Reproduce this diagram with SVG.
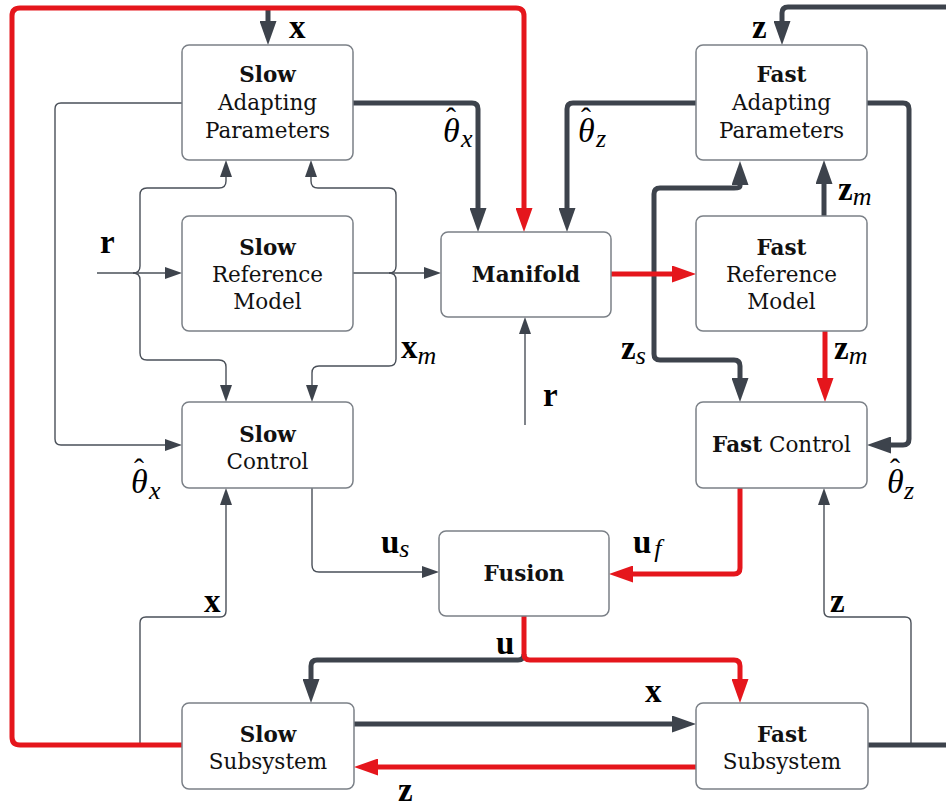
<svg xmlns="http://www.w3.org/2000/svg" width="946" height="807" viewBox="0 0 946 807">
  <defs>
    <style>
      .box { fill: #ffffff; stroke: #7b8087; stroke-width: 1.5; }
      .lbl { font-family: "DejaVu Serif", "Liberation Serif", serif; font-size: 21.5px; fill: #111; text-anchor: middle; }
      .b { font-weight: bold; }
      .thick { fill: none; stroke: #3d434c; stroke-width: 5; }
      .red { fill: none; stroke: #e5161c; stroke-width: 5; }
      .thin { fill: none; stroke: #4a5059; stroke-width: 1.4; }
      .vec { font-family: "Liberation Serif", "DejaVu Serif", serif; font-weight: bold; font-size: 33px; fill: #000; }
      .it { font-family: "Liberation Serif", "DejaVu Serif", serif; font-style: italic; fill: #000; }
      .th { font-size: 34px; }
      .sub { font-size: 26px; }
      .hat { font-style: normal; font-size: 30px; }
    </style>
    <marker id="ahDark" markerUnits="userSpaceOnUse" markerWidth="24" markerHeight="17" viewBox="0 0 24 17" refX="0" refY="8.5" orient="auto">
      <path d="M0,0 L24,8.5 L0,17 Z" fill="#3d434c"/>
    </marker>
    <marker id="ahRed" markerUnits="userSpaceOnUse" markerWidth="24" markerHeight="17" viewBox="0 0 24 17" refX="0" refY="8.5" orient="auto">
      <path d="M0,0 L24,8.5 L0,17 Z" fill="#e5161c"/>
    </marker>
    <marker id="ahThin" markerUnits="userSpaceOnUse" markerWidth="17" markerHeight="12" viewBox="0 0 17 12" refX="0" refY="6" orient="auto">
      <path d="M0,0 L17,6 L0,12 Z" fill="#3d434c"/>
    </marker>
  </defs>

  <rect width="946" height="807" fill="#ffffff"/>

  <!-- connectors -->
  <g id="connectors">
    <!-- thin signal lines -->
    <path class="thin" d="M97,273 L165,273" marker-end="url(#ahThin)"/>
    <path class="thin" d="M133,273 Q140,273 140,266 L140,195 Q140,188 147,188 L219,188 Q226,188 226,181 L226,177" marker-end="url(#ahThin)"/>
    <path class="thin" d="M133,273 Q140,273 140,280 L140,353 Q140,360 147,360 L219,360 Q226,360 226,367 L226,385" marker-end="url(#ahThin)"/>
    <path class="thin" d="M353,273 L424,273" marker-end="url(#ahThin)"/>
    <path class="thin" d="M389,273 Q396,273 396,266 L396,195 Q396,188 389,188 L318,188 Q311,188 311,181 L311,177" marker-end="url(#ahThin)"/>
    <path class="thin" d="M389,273 Q396,273 396,280 L396,359 Q396,366 389,366 L319,366 Q312,366 312,373 L312,385" marker-end="url(#ahThin)"/>
    <path class="thin" d="M182,103 L61,103 Q55,103 55,109 L55,439 Q55,445 61,445 L165,445" marker-end="url(#ahThin)"/>
    <path class="thin" d="M525,425 L525,334" marker-end="url(#ahThin)"/>
    <path class="thin" d="M312,488 L312,565 Q312,572 319,572 L422,572" marker-end="url(#ahThin)"/>
    <path class="thin" d="M140,745 L140,623 Q140,617 146,617 L220,617 Q226,617 226,611 L226,505" marker-end="url(#ahThin)"/>
    <path class="thin" d="M911,745 L911,623 Q911,617 905,617 L830,617 Q824,617 824,611 L824,505" marker-end="url(#ahThin)"/>

    <!-- thick dark lines -->
    <path class="thick" d="M268,9 L268,21" marker-end="url(#ahDark)"/>
    <path class="thick" d="M353,103 L472,103 Q478,103 478,109 L478,208" marker-end="url(#ahDark)"/>
    <path class="thick" d="M696,103 L573,103 Q567,103 567,109 L567,208" marker-end="url(#ahDark)"/>
    <path class="thick" d="M946,7 L788,7 Q782,7 782,13 L782,21" marker-end="url(#ahDark)"/>
    <path class="thick" d="M867,103 L903,103 Q909,103 909,109 L909,439 Q909,445 903,445 L891,445" marker-end="url(#ahDark)"/>
    <path class="thick" d="M654,273 L654,194 Q654,188 660,188 L734,188 Q740,188 740,186 L740,185" marker-end="url(#ahDark)"/>
    <path class="thick" d="M654,273 L654,354 Q654,360 660,360 L734,360 Q740,360 740,366 L740,378" marker-end="url(#ahDark)"/>
    <path class="thick" d="M824,216 L824,184" marker-end="url(#ahDark)"/>
    <path class="thick" d="M524,654 Q524,660 518,660 L317,660 Q311,660 311,666 L311,679" marker-end="url(#ahDark)"/>
    <path class="thick" d="M354,724 L672,724" marker-end="url(#ahDark)"/>
    <path class="thick" d="M868,745 L946,745"/>

    <!-- thick red lines -->
    <path class="red" d="M182,745 L20,745 Q12,745 12,737 L12,16 Q12,8 20,8 L516,8 Q524,8 524,16 L524,208" marker-end="url(#ahRed)"/>
    <path class="red" d="M611,274 L672,274" marker-end="url(#ahRed)"/>
    <path class="red" d="M825,331 L825,378" marker-end="url(#ahRed)"/>
    <path class="red" d="M740,488 L740,568 Q740,574 734,574 L633,574" marker-end="url(#ahRed)"/>
    <path class="red" d="M524,616 L524,654 Q524,660 530,660 L734,660 Q740,660 740,666 L740,679" marker-end="url(#ahRed)"/>
    <path class="red" d="M696,767 L378,767" marker-end="url(#ahRed)"/>
  </g>

  <!-- nodes -->
  <g id="slow-adapting">
    <rect class="box" x="182" y="45" width="171" height="115" rx="7"/>
    <text class="lbl" x="267.5" y="82"><tspan class="b">Slow</tspan></text>
    <text class="lbl" x="267.5" y="110">Adapting</text>
    <text class="lbl" x="267.5" y="138">Parameters</text>
  </g>
  <g id="slow-reference">
    <rect class="box" x="182" y="216" width="171" height="115" rx="7"/>
    <text class="lbl" x="267.5" y="255"><tspan class="b">Slow</tspan></text>
    <text class="lbl" x="267.5" y="282">Reference</text>
    <text class="lbl" x="267.5" y="309">Model</text>
  </g>
  <g id="manifold">
    <rect class="box" x="441" y="232" width="170" height="85" rx="7"/>
    <text class="lbl b" x="526" y="282">Manifold</text>
  </g>
  <g id="slow-control">
    <rect class="box" x="182" y="402" width="171" height="86" rx="7"/>
    <text class="lbl" x="267.5" y="442"><tspan class="b">Slow</tspan></text>
    <text class="lbl" x="267.5" y="469">Control</text>
  </g>
  <g id="fast-adapting">
    <rect class="box" x="696" y="45" width="171" height="115" rx="7"/>
    <text class="lbl" x="781.5" y="82"><tspan class="b">Fast</tspan></text>
    <text class="lbl" x="781.5" y="110">Adapting</text>
    <text class="lbl" x="781.5" y="138">Parameters</text>
  </g>
  <g id="fast-reference">
    <rect class="box" x="696" y="216" width="171" height="115" rx="7"/>
    <text class="lbl" x="781.5" y="255"><tspan class="b">Fast</tspan></text>
    <text class="lbl" x="781.5" y="282">Reference</text>
    <text class="lbl" x="781.5" y="309">Model</text>
  </g>
  <g id="fast-control">
    <rect class="box" x="696" y="402" width="171" height="86" rx="7"/>
    <text class="lbl" x="781.5" y="452"><tspan class="b">Fast</tspan> Control</text>
  </g>
  <g id="fusion">
    <rect class="box" x="439" y="531" width="170" height="85" rx="7"/>
    <text class="lbl b" x="524" y="581">Fusion</text>
  </g>
  <g id="slow-subsystem">
    <rect class="box" x="182" y="703" width="172" height="86" rx="7"/>
    <text class="lbl" x="268" y="742"><tspan class="b">Slow</tspan></text>
    <text class="lbl" x="268" y="769">Subsystem</text>
  </g>
  <g id="fast-subsystem">
    <rect class="box" x="696" y="703" width="172" height="86" rx="7"/>
    <text class="lbl" x="782" y="742"><tspan class="b">Fast</tspan></text>
    <text class="lbl" x="782" y="769">Subsystem</text>
  </g>

  <!-- signal labels -->
  <g id="labels">
    <text class="vec" x="289" y="38">x</text>
    <text class="vec" x="752" y="38">z</text>
    <text class="vec" x="100" y="253">r</text>
    <text class="vec" x="543" y="406">r</text>
    <text class="vec" x="401" y="358">x<tspan class="it sub" font-weight="normal" dy="6">m</tspan></text>
    <text class="vec" x="621" y="359">z<tspan class="it sub" font-weight="normal" dy="5">s</tspan></text>
    <text class="vec" x="838" y="200">z<tspan class="it sub" font-weight="normal" dy="5">m</tspan></text>
    <text class="vec" x="834" y="359">z<tspan class="it sub" font-weight="normal" dy="5">m</tspan></text>
    <text class="vec" x="381" y="553">u<tspan class="it sub" font-weight="normal" dy="4">s</tspan></text>
    <text class="vec" x="633" y="553">u<tspan class="it sub" font-weight="normal" dx="3" dy="4">f</tspan></text>
    <text class="vec" x="204" y="612">x</text>
    <text class="vec" x="830" y="612">z</text>
    <text class="vec" x="496" y="654">u</text>
    <text class="vec" x="645" y="702">x</text>
    <text class="vec" x="398" y="801">z</text>

    <!-- hatted parameter estimates: theta, hat and subscript in one text each -->
    <text class="it th" x="443" y="142">θ<tspan class="hat" x="446" y="128">ˆ</tspan><tspan class="sub" x="461" y="147">x</tspan></text>
    <text class="it th" x="578" y="142">θ<tspan class="hat" x="581" y="128">ˆ</tspan><tspan class="sub" x="596" y="147">z</tspan></text>
    <text class="it th" x="131" y="493">θ<tspan class="hat" x="134" y="479">ˆ</tspan><tspan class="sub" x="149" y="499">x</tspan></text>
    <text class="it th" x="887" y="493">θ<tspan class="hat" x="890" y="479">ˆ</tspan><tspan class="sub" x="904" y="499">z</tspan></text>
  </g>
</svg>
